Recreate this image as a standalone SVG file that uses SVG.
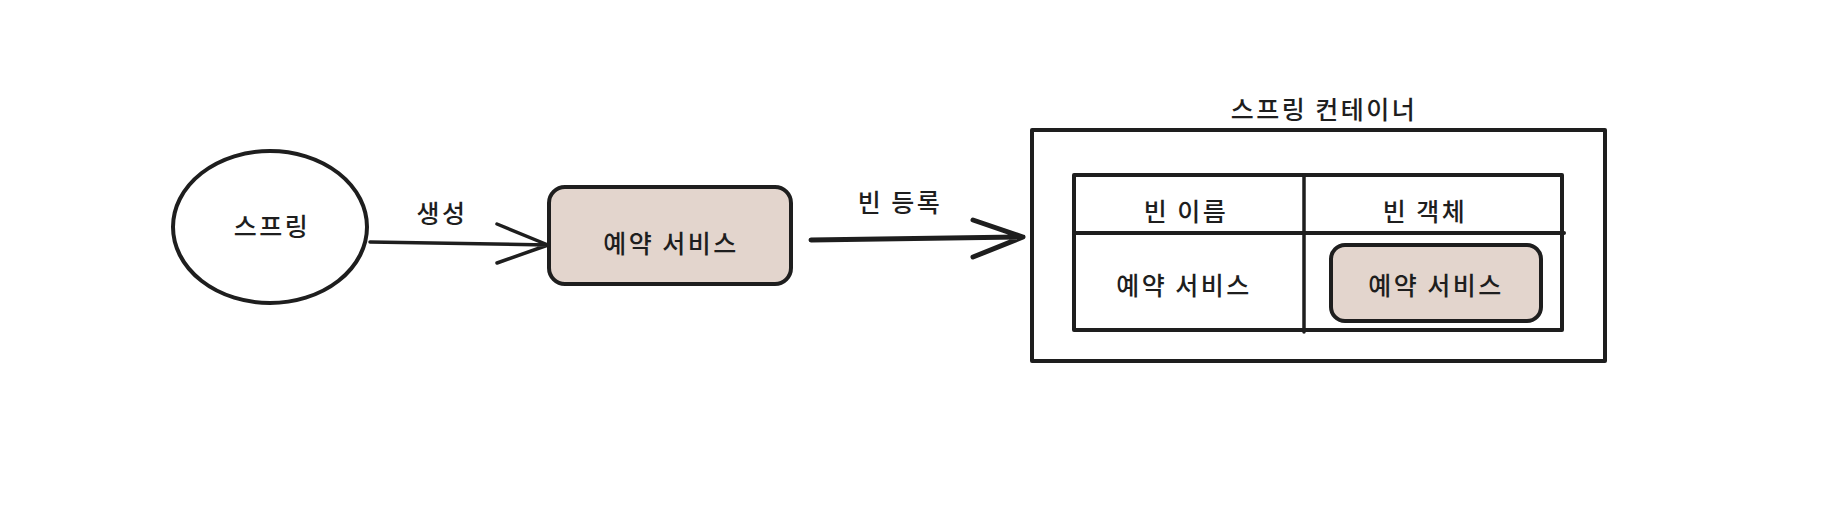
<svg xmlns="http://www.w3.org/2000/svg" width="1848" height="506" viewBox="0 0 1848 506">
<style>
.s{fill:none;stroke:#1e1e1e;stroke-width:3.5;stroke-linecap:round;stroke-linejoin:round}
.f{fill:#e3d5cd;stroke:#1e1e1e;stroke-width:4}
.t{font-family:"Noto Sans CJK KR","Noto Sans",sans-serif;font-size:25px;font-weight:500;fill:#1e1e1e;text-anchor:middle;dominant-baseline:central;letter-spacing:2.5px}
</style>
<rect width="1848" height="506" fill="#ffffff"/>
<g id="spring">
<ellipse cx="270" cy="227" rx="97" ry="76" class="s" style="stroke-width:4"/>
<text x="272" y="225" class="t">스프링</text>
</g>
<g id="reservation-service">
<rect x="549" y="187" width="242" height="97" rx="16" class="f"/>
<text x="671" y="242" class="t">예약 서비스</text>
</g>
<g id="container">
<rect x="1032" y="130" width="573" height="231" class="s" style="stroke-width:4"/>
<text x="1324" y="108" class="t">스프링 컨테이너</text>
</g>
<g id="table">
<rect x="1074" y="175" width="488" height="155" class="s" style="stroke-width:4"/>
<line x1="1074" y1="233" x2="1564" y2="233" class="s" style="stroke-width:4"/>
<line x1="1304" y1="175" x2="1304" y2="332" class="s"/>
<text x="1186" y="210" class="t">빈 이름</text>
<text x="1425" y="210" class="t">빈 객체</text>
<text x="1184" y="284" class="t">예약 서비스</text>
</g>
<g id="bean-object">
<rect x="1331" y="245" width="210" height="76" rx="14" class="f"/>
<text x="1436" y="284" class="t">예약 서비스</text>
</g>
<g id="connectors">
<path d="M370 242 L548 245 M497 224 L548 245 L497 263" class="s"/>
<text x="442" y="212" class="t">생성</text>
<path d="M811 240 L1023 237 M973 220 L1023 237 L973 257" class="s" style="stroke-width:5"/>
<text x="900" y="201" class="t">빈 등록</text>
</g>
</svg>
